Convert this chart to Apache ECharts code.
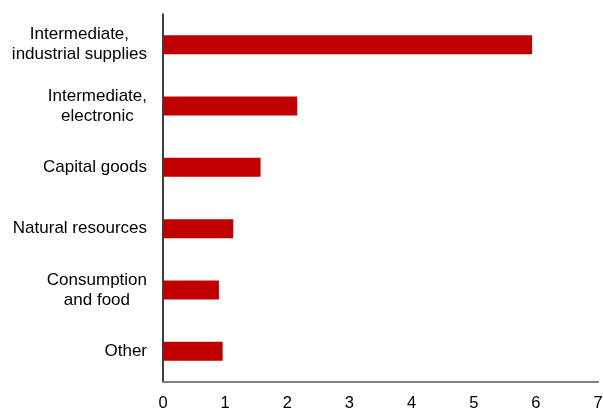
<!DOCTYPE html>
<html>
<head>
<meta charset="utf-8">
<script src="https://cdn.jsdelivr.net/npm/echarts@6/dist/echarts.min.js"></script>
<style>
  html, body { margin: 0; padding: 0; background: #fff; }
  #chart { width: 603px; height: 408px; }
</style>
</head>
<body>
<div id="chart"></div>
<script>
// categories, listed top to bottom
var categories = [
  'Intermediate,\nindustrial supplies',
  'Intermediate,\nelectronic',
  'Capital goods',
  'Natural resources',
  'Consumption\nand food',
  'Other'
]
var values = [5.94, 2.16, 1.57, 1.13, 0.90, 0.96]
var xTicks = [0, 1, 2, 3, 4, 5, 6, 7]

var chart = echarts.init(document.getElementById('chart'))

var option = {
  animation: false,
  grid: {
    left: 163,
    right: 5,
    top: 14,
    bottom: 26,
    outerBoundsMode: 'none'
  },
  xAxis: {
    type: 'value',
    min: xTicks[0],
    max: xTicks[xTicks.length - 1],
    interval: 1,
    splitLine: { show: false },
    axisTick: { show: false },
    axisLine: { show: true, lineStyle: { color: '#808080', width: 2 } },
    axisLabel: {
      margin: 13,
      color: '#000',
      fontFamily: 'Liberation Sans, Arial',
      fontSize: 16.5
    }
  },
  yAxis: {
    type: 'category',
    inverse: true,
    data: categories,
    axisTick: { show: false },
    axisLine: { show: true, lineStyle: { color: '#000', width: 1.5 } },
    axisLabel: {
      margin: 16,
      color: '#000',
      fontFamily: 'Liberation Sans, Arial',
      fontSize: 17,
      lineHeight: 20,
      formatter: function (v) {
        return v.split('\n').map(function (l) { return '{c|' + l + '}' }).join('\n')
      },
      rich: {
        c: {
          align: 'center',
          color: '#000',
          fontFamily: 'Liberation Sans, Arial',
          fontSize: 17,
          lineHeight: 20
        }
      }
    }
  },
  series: [
    {
      type: 'bar',
      data: values,
      barWidth: 19,
      itemStyle: { color: '#C00000' }
    }
  ]
}

chart.setOption(option)
</script>
</body>
</html>
